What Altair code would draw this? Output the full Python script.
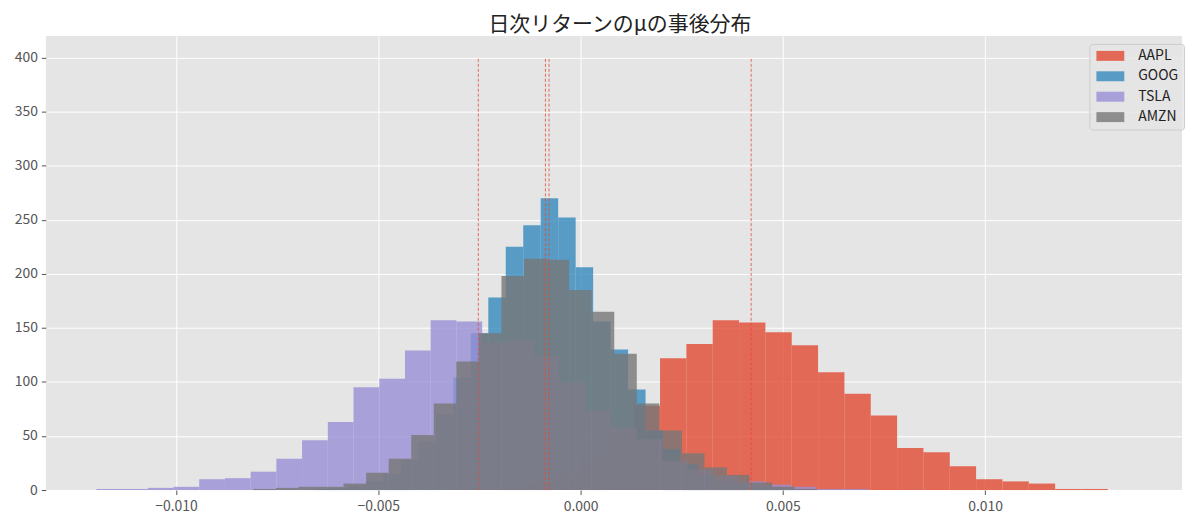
import altair as alt
import pandas as pd

# series (plot order = legend order)
series_names = ["AAPL", "GOOG", "TSLA", "AMZN"]
series_colors = ["#E24A33", "#348ABD", "#988ED5", "#777777"]

# histogram bins: first bin edge, bin width, counts per bin
aapl_start, aapl_width = -0.003244, 0.000651
aapl_counts = [1, 1, 3, 7, 15, 30, 55, 78, 122, 135, 157, 155, 146, 134, 109,
               89, 69, 39, 35, 22, 10, 8, 6, 1, 1]

goog_start, goog_width = -0.006600, 0.0004319
goog_counts = [1, 2, 4, 8, 15, 28, 45, 70, 104, 145, 178, 225, 245, 270, 252,
               206, 156, 130, 93, 55, 38, 24, 14, 8, 5, 3, 2, 1]

tsla_start, tsla_width = -0.011969, 0.0006357
tsla_counts = [1, 1, 2, 3, 10, 11, 17, 29, 46, 63, 95, 103, 129, 157, 156,
               136, 138, 124, 99, 73, 58, 47, 27, 19, 13, 8, 5, 3, 1, 1]

amzn_start, amzn_width = -0.008088, 0.0005575
amzn_counts = [1, 2, 3, 3, 6, 16, 29, 51, 80, 119, 145, 198, 214, 213, 185,
               165, 126, 80, 55, 34, 21, 14, 7, 3, 1]

# posterior means (dashed lines)
post_means = [0.004216, -0.000780, -0.002528, -0.000869]

x_ticks = [-0.010, -0.005, 0.0, 0.005, 0.010]
y_ticks = [0, 50, 100, 150, 200, 250, 300, 350, 400]

FONT = "Noto Sans CJK JP"

rows = []
hists = [(aapl_start, aapl_width, aapl_counts),
         (goog_start, goog_width, goog_counts),
         (tsla_start, tsla_width, tsla_counts),
         (amzn_start, amzn_width, amzn_counts)]
for name, (start, width, counts) in zip(series_names, hists):
    for i, c in enumerate(counts):
        lo = start + i * width
        rows.append({"series": name, "lo": lo, "hi": lo + width, "count": c, "base": 0})
hist_df = pd.DataFrame(rows)

mean_df = pd.DataFrame({"series": series_names, "mean": post_means,
                        "y0": [0] * 4, "y1": [400] * 4})

x_scale = alt.Scale(domain=[-0.013217, 0.014866], nice=False, zero=False)
y_scale = alt.Scale(domain=[0, 420], nice=False)

bars = alt.Chart(hist_df).mark_rect(opacity=0.8).encode(
    x=alt.X("lo:Q", scale=x_scale,
            axis=alt.Axis(values=x_ticks, format=".3f", title=None, labelPadding=5)),
    x2="hi:Q",
    y=alt.Y("count:Q", scale=y_scale, axis=alt.Axis(values=y_ticks, title=None)),
    y2="base:Q",
    color=alt.Color("series:N",
                    scale=alt.Scale(domain=series_names, range=series_colors),
                    legend=alt.Legend(title=None, orient="none", legendX=1048, legendY=8,
                                      symbolType="M-1,-1H4.6V1H-1Z", symbolSize=100,
                                      symbolOpacity=0.8, symbolStrokeWidth=0,
                                      labelOffset=30, labelFont=FONT, labelFontSize=14,
                                      labelColor="#222222", rowPadding=6.5, padding=5,
                                      fillColor="rgba(229,229,229,0.8)",
                                      strokeColor="#CCCCCC", cornerRadius=3)),
)

rules = alt.Chart(mean_df).mark_rule(color="#E24A33", strokeDash=[3, 2], strokeWidth=0.8).encode(
    x=alt.X("mean:Q", scale=x_scale),
    y=alt.Y("y0:Q", scale=y_scale),
    y2="y1:Q",
)

chart = alt.layer(bars, rules).properties(
    width=1141,
    height=456,
    title=alt.TitleParams("日次リターンのμの事後分布", font=FONT, fontSize=21,
                          fontWeight="normal", color="#222222", anchor="middle",
                          offset=1, dx=6),
    autosize=alt.AutoSizeParams(type="none"),
    padding={"left": 38, "top": 27, "right": 10, "bottom": 28},
).configure_view(
    fill="#E5E5E5", strokeWidth=0
).configure_axis(
    grid=True, gridColor="#FFFFFF", gridWidth=1, domain=False,
    tickColor="#555555", tickSize=4.5, tickWidth=1,
    labelColor="#555555", labelFont=FONT, labelFontSize=14, labelPadding=4,
)

chart.save("out.html", embed_options={"renderer": "svg", "actions": False})
